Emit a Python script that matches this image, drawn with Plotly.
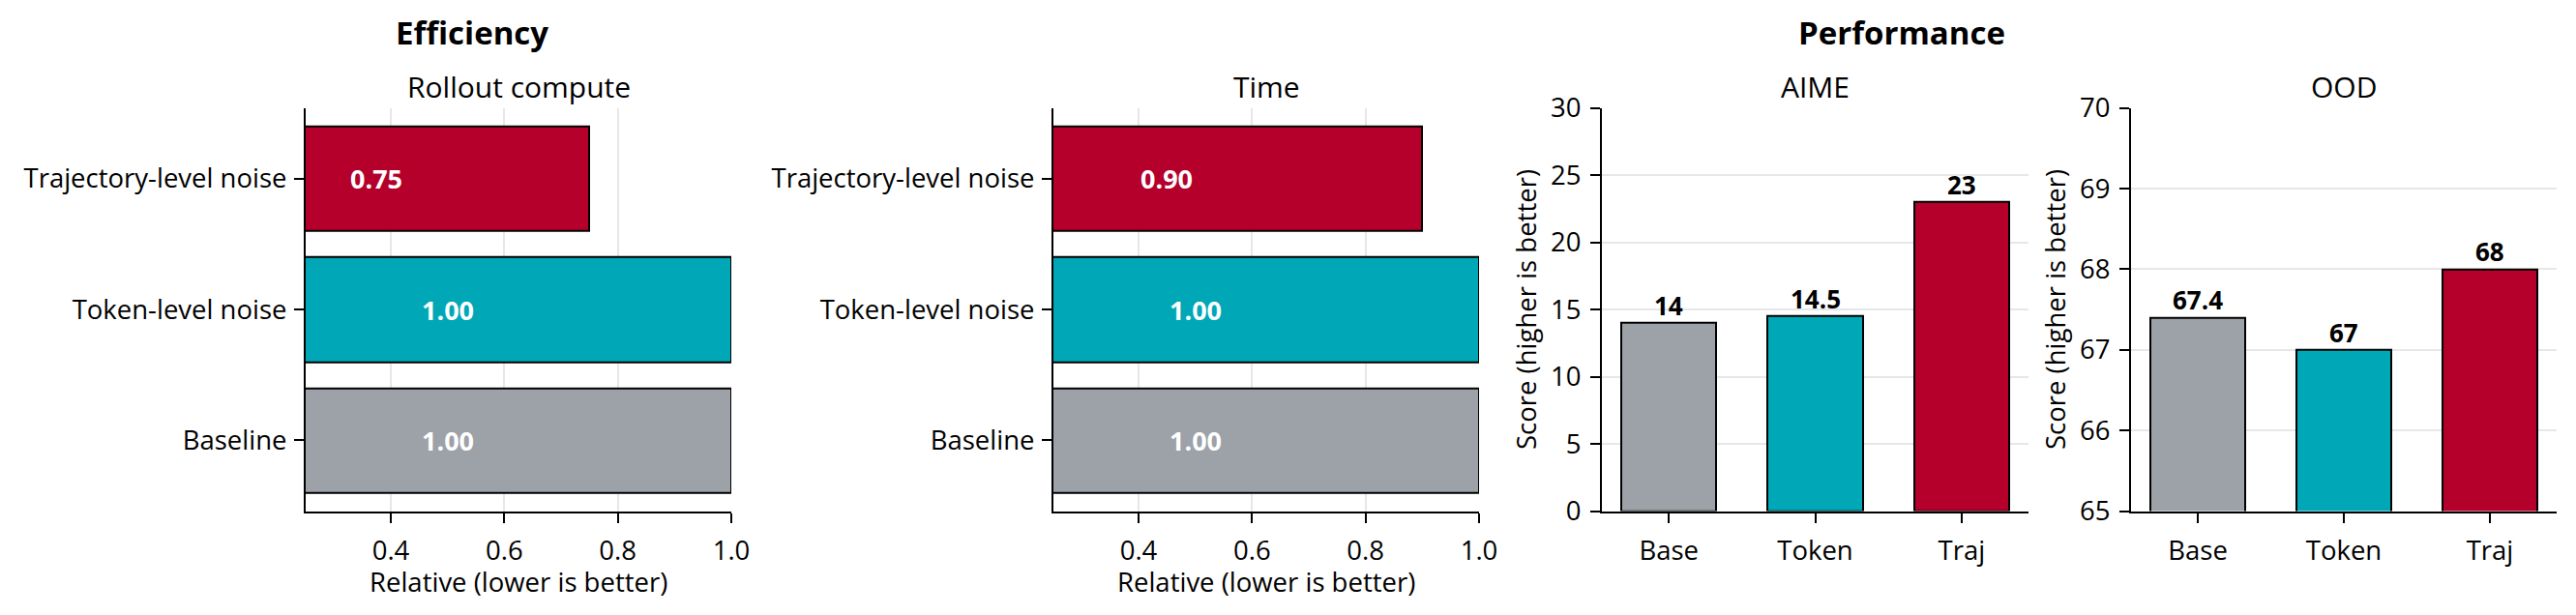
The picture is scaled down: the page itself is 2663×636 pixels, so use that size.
import plotly.graph_objects as go

# ---------------- data ----------------
eff_categories = ["Baseline", "Token-level noise", "Trajectory-level noise"]
rollout_compute = [1.00, 1.00, 0.75]
time_rel = [1.00, 1.00, 0.90]

perf_categories = ["Base", "Token", "Traj"]
aime_scores = [14, 14.5, 23]
ood_scores = [67.4, 67, 68]

x_ticks_rel = [0.4, 0.6, 0.8, 1.0]
aime_ticks = [0, 5, 10, 15, 20, 25, 30]
ood_ticks = [65, 66, 67, 68, 69, 70]

# ---------------- style ----------------
W, H = 2663, 636
FONT = "Open Sans"
GRAY, TEAL, RED = "#9DA1A8", "#00A8B7", "#B4002A"
bar_colors = [GRAY, TEAL, RED]
GRID = "rgba(176,176,176,0.3)"
TICK_SIZE = 27.5


def xd(a, b):
    return [a / W, b / W]


def yd(top, bottom):
    return [1 - bottom / H, 1 - top / H]


panel_x = [(316, 756), (1089, 1529), (1656, 2097), (2203, 2643)]
PLOT_TOP, PLOT_BOTTOM = 111.7, 528.5

fig = go.Figure()

common_axis = dict(
    showline=True, linecolor="black", linewidth=2,
    ticks="outside", ticklen=10, tickwidth=2, tickcolor="black",
    zeroline=False, layer="above traces", automargin=False,
    tickfont=dict(family=FONT, size=TICK_SIZE, color="black"),
)

# horizontal bar panels
for i, (vals, ttl) in enumerate([(rollout_compute, "Rollout compute"), (time_rel, "Time")]):
    n = i + 1
    xa, ya = ("x" if n == 1 else f"x{n}"), ("y" if n == 1 else f"y{n}")
    fig.add_trace(go.Bar(
        x=vals, y=eff_categories, orientation="h", width=0.8,
        marker=dict(color=bar_colors, line=dict(color="black", width=2)),
        xaxis=xa, yaxis=ya, showlegend=False, hoverinfo="skip",
    ))
    fig.update_layout(**{
        ("xaxis" if n == 1 else f"xaxis{n}"): dict(
            common_axis, domain=xd(*panel_x[i]), anchor=ya,
            range=[0.25, 1.0], tickvals=x_ticks_rel, tickformat=".1f",
            showgrid=True, gridcolor=GRID, gridwidth=1.5,
            ticklabelstandoff=5,
        ),
        ("yaxis" if n == 1 else f"yaxis{n}"): dict(
            common_axis, domain=yd(PLOT_TOP, PLOT_BOTTOM), anchor=xa,
            type="category", range=[-0.54, 2.54], showgrid=False,
            ticklabelstandoff=2,
        ),
    })
    for cat, v in zip(eff_categories, vals):
        fig.add_annotation(
            x=v / 2, y=cat, xref=xa, yref=ya, text=f"<b>{v:.2f}</b>",
            showarrow=False, font=dict(family=FONT, size=27, color="white"),
            xanchor="center", yanchor="middle",
        )
    cx = (panel_x[i][0] + panel_x[i][1]) / 2 / W
    fig.add_annotation(x=cx, y=1 - 89 / H, xref="paper", yref="paper", text=ttl,
                       showarrow=False, font=dict(family=FONT, size=30, color="black"),
                       xanchor="center", yanchor="middle")
    fig.add_annotation(x=cx, y=1 - 601 / H, xref="paper", yref="paper",
                       text="Relative (lower is better)", showarrow=False,
                       font=dict(family=FONT, size=TICK_SIZE, color="black"),
                       xanchor="center", yanchor="middle", borderpad=0)

# vertical bar panels
for j, (vals, ttl, rng, tv, ylab_x) in enumerate([
    (aime_scores, "AIME", [0, 30], aime_ticks, 1577),
    (ood_scores, "OOD", [65, 70], ood_ticks, 2124),
]):
    n = j + 3
    xa, ya = f"x{n}", f"y{n}"
    fig.add_trace(go.Bar(
        x=perf_categories, y=vals, width=0.65,
        marker=dict(color=bar_colors, line=dict(color="black", width=2)),
        xaxis=xa, yaxis=ya, showlegend=False, hoverinfo="skip",
    ))
    fig.update_layout(**{
        f"xaxis{n}": dict(
            common_axis, domain=xd(*panel_x[n - 1]), anchor=ya,
            type="category", range=[-0.4575, 2.4575], showgrid=False,
            ticklabelstandoff=5,
        ),
        f"yaxis{n}": dict(
            common_axis, domain=yd(PLOT_TOP, PLOT_BOTTOM), anchor=xa,
            range=rng, tickvals=tv, showgrid=True, gridcolor=GRID, gridwidth=1.5,
            ticklabelstandoff=4,
        ),
    })
    for cat, v in zip(perf_categories, vals):
        fig.add_annotation(
            x=cat, y=v, xref=xa, yref=ya, text=f"<b>{v:g}</b>",
            showarrow=False, font=dict(family=FONT, size=26, color="black"),
            xanchor="center", yanchor="bottom", yshift=-2,
        )
    cx = (panel_x[n - 1][0] + panel_x[n - 1][1]) / 2 / W
    fig.add_annotation(x=cx, y=1 - 89 / H, xref="paper", yref="paper", text=ttl,
                       showarrow=False, font=dict(family=FONT, size=30, color="black"),
                       xanchor="center", yanchor="middle")
    fig.add_annotation(x=ylab_x / W, y=1 - 320 / H, xref="paper", yref="paper",
                       text="Score (higher is better)", textangle=-90, showarrow=False,
                       font=dict(family=FONT, size=TICK_SIZE, color="black"),
                       xanchor="center", yanchor="middle")

# super titles
for txt, xc in [("Efficiency", 488), ("Performance", 1966)]:
    fig.add_annotation(x=xc / W, y=1 - 34 / H, xref="paper", yref="paper",
                       text=f"<b>{txt}</b>", showarrow=False,
                       font=dict(family=FONT, size=33, color="black"),
                       xanchor="center", yanchor="middle")

fig.update_layout(
    width=W, height=H,
    margin=dict(l=0, r=0, t=0, b=0),
    paper_bgcolor="white", plot_bgcolor="white",
    font=dict(family=FONT, color="black"),
    bargap=0,
)

fig.write_html("out.html")
